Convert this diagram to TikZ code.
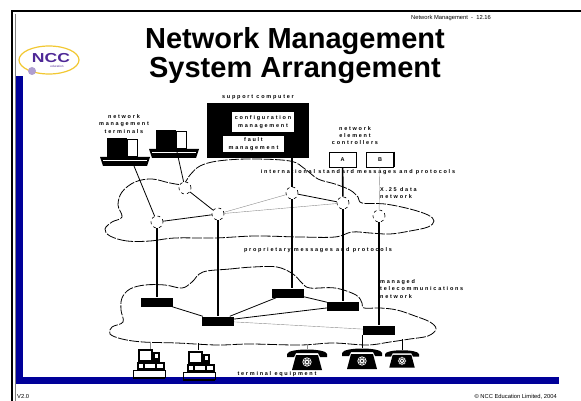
\documentclass[tikz,border=0pt]{standalone}
\usepackage{fontspec}
\setmainfont{Liberation Sans}
\newfontfamily\lblfont[LetterSpace=32]{Liberation Sans}
\usetikzlibrary{positioning,calc}

\definecolor{nccblue}{RGB}{0,0,153}
\definecolor{nccpurple}{RGB}{78,40,150}
\definecolor{nccgold}{RGB}{242,200,50}

\tikzset{
  lbl/.style={font=\lblfont\bfseries\fontsize{5.5}{7.2}\selectfont, inner sep=0pt, align=center},
  hub/.style={circle, draw, dashed, fill=white, minimum size=12pt, inner sep=0pt, line width=0.6pt},
  switch/.style={rectangle, fill=black, minimum width=32pt, minimum height=9pt, inner sep=0pt},
  panel/.style={rectangle, fill=white, inner sep=0pt, lbl},
  ctl/.style={rectangle, draw, line width=0.9pt, fill=white, minimum width=27pt, minimum height=15pt, inner sep=0pt, lbl},
  link/.style={line width=0.8pt},
  trunk/.style={line width=1.6pt},
  faint/.style={line width=0.4pt, black!45},
  cloudline/.style={dash pattern=on 10pt off 1.5pt, line width=0.8pt},
  ttl/.style={font=\bfseries\fontsize{29}{31}\selectfont, anchor=base, inner sep=0pt},
  small/.style={font=\fontsize{5.8}{7}\selectfont, inner sep=0pt},
  % desk terminal: monitor on a keyboard slab
  termpc/.pic={
    \fill (7,0) rectangle (27,19);
    \filldraw[fill=white, line width=0.4pt] (27,1) rectangle (37,18);
    \fill (0,19) -- (50,19) -- (47,28) -- (3,28) -- cycle;
    \draw[white, line width=0.5pt] (3,22) -- (47,22);
  },
  % personal computer on a base plate
  deskpc/.pic={
    \fill (5,1) rectangle (20,14);
    \fill[white] (7,3) rectangle (18,12);
    \fill (20,4) rectangle (27,14);
    \fill[white] (22,6) rectangle (25,10);
    \fill (4,14) rectangle (32,22);
    \foreach \a/\b in {6/10,12/22,24/30}
      \fill[white] (\a,16) rectangle (\b,20);
    \draw[line width=0.5pt] (0,22) rectangle (32,29);
    \draw[line width=1.2pt] (0,30) -- (32,30);
  },
  % telephone
  phone/.pic={
    \fill (-20,6) .. controls (-19,0) and (19,0) .. (20,6) -- (20,9) -- (13,9) -- (11,5) -- (-11,5) -- (-13,9) -- (-20,9) -- cycle;
    \fill (-11,7) -- (11,7) -- (15,22) -- (-15,22) -- cycle;
    \filldraw[fill=white, draw=black, line width=0.5pt] (0,14) circle (5);
    \foreach \a in {0,45,...,315}
      \fill (0,14) ++(\a:3) circle (0.8);
    \fill (0,14) circle (1.2);
  },
}

\begin{document}
\begin{tikzpicture}[x=1pt, y=-1pt]
\useasboundingbox (0,0) rectangle (581,401);

% slide frame and bars
\draw[line width=1.5pt] (12,401) -- (12,11) -- (581,11);
\draw[black!50, line width=0.4pt] (14.8,401) -- (14.8,14);
\fill[nccblue] (16,74) rectangle (23,384);
\fill[nccblue] (16,377) rectangle (559,384);

% logo
\fill[white] (16,44) rectangle (82,76);
\draw[nccgold, line width=1.2pt] (49,60) ellipse (30 and 14);
\node[text=nccpurple, font=\bfseries\fontsize{13}{13}\selectfont, xscale=1.35, inner sep=0pt] (logo) at (51,58) {NCC};
\node[text=nccpurple, font=\fontsize{3}{3}\selectfont, inner sep=0pt] (edu) at (57,66.5) {education};
\fill[nccpurple!45] (32,71) circle (4);

% headings
\node[small, anchor=base east] (hdr) at (491,20) {Network Management\ \ -\ \ 12.16};
\node[ttl] (title1) at (295,49) {Network Management};
\node[ttl] (title2) at (295,78) {System Arrangement};
\node[small, anchor=base west] (ver) at (17,398) {V2.0};
\node[small, anchor=base east] (copy) at (557,398) {\textcopyright\ NCC Education Limited, 2004};

% the two networks
\draw[cloudline] plot[smooth cycle, tension=0.6] coordinates {
  (150,241) (127,241) (110,236) (105,229) (112,222) (122,217) (118,205) (122,192)
  (135,182) (152,179) (170,183) (183,184) (190,175) (200,166) (218,161) (250,159)
  (290,161) (305,169) (318,179) (335,184) (350,190) (358,197) (362,203) (385,204)
  (410,209) (428,215) (434,221) (428,227) (410,231) (390,234) (370,233) (352,232)
  (335,237) (300,237) (255,236) (215,238) (175,238)};
\draw[cloudline] plot[smooth cycle, tension=0.6] coordinates {
  (203,272) (230,269) (253,267) (277,267) (293,274) (302,283) (310,288) (335,288)
  (356,295) (362,303) (364,308) (380,308) (397,310) (415,316) (430,322) (436,329)
  (428,336) (410,339) (390,342) (367,345) (333,343) (300,345) (250,344) (217,345)
  (177,343) (143,342) (122,339) (110,334) (112,327) (123,322) (121,310) (122,298)
  (130,289) (145,285) (165,285) (182,288) (192,282)};

% labels
\node[lbl] (termlbl) at (124,124) {network\\management\\terminals};
\node[lbl] (ctllbl) at (355,135.5) {network\\element\\controllers};
\node[lbl] (intl) at (358,172) {international standard messages and protocols};
\node[lbl, align=left, anchor=west] (x25) at (380,193) {X.25 data\\network};
\node[lbl] (prop) at (318,250) {proprietary messages and protocols};
\node[lbl, align=left, anchor=west] (mtn) at (380,289) {managed\\telecommunications\\network};
\node[lbl] (teq) at (277,374) {terminal equipment};

% support computer
\node[fill=black, minimum width=102pt, minimum height=55pt, inner sep=0pt] (supp) at (258,130.5) {};
\node[lbl, above=3pt of supp] (supplbl) {support computer};
\node[panel, minimum width=62pt, minimum height=20pt] (cfg) at (263,122) {configuration\\management};
\node[panel, minimum width=61pt, minimum height=16pt] (fault) at (253.5,144) {fault\\management};

% element controllers
\node[ctl] (ctlA) at (342.5,159.5) {A};
\node[ctl] (ctlB) at (380,159.5) {B};
\draw[line width=1.6pt] (ctlB.north east) -- (ctlB.south east);

% terminals
\pic at (100,138) {termpc};
\pic at (149,130) {termpc};
\coordinate (t1) at (134,166);
\coordinate (t2) at (177,152);

% switching nodes
\node[hub] (h1) at (185,188) {};
\node[hub] (h2) at (292,193) {};
\node[hub] (h3) at (218,214) {};
\node[hub] (h4) at (157,222) {};
\node[hub] (h5) at (343,203) {};
\node[hub] (h6) at (379,216) {};
\node[switch] (s1) at (157,302) {};
\node[switch] (s2) at (218,321) {};
\node[switch] (s3) at (288,293) {};
\node[switch] (s4) at (343,306) {};
\node[switch] (s5) at (379,330) {};

% upper links
\draw[link] (t1) -- (h4);
\draw[link] (t2) -- (h1);
\draw[link] (h1) -- (h3);
\draw[link] (h4) -- (h3);
\draw[faint] (h3) -- (h2);
\draw[faint] (h3) -- (h5);
\draw[link] (h2) -- (h5);
\draw[faint] (ctlB) -- (h6);

% drops to the managed network
\draw[trunk] (supp.south -| h2) -- (h2);
\draw[trunk] (h2) -- (h2 |- s3.north);
\draw[trunk] (ctlA) -- (h5);
\draw[trunk] (h5) -- (s4);
\draw[trunk] (h6) -- (s5);
\draw[trunk] (h4) -- (s1);
\draw[trunk] (h3) -- (s2);

% lower links
\draw[link] (s1) -- (s2);
\draw[link] (s2) -- (s3);
\draw[link] (s2) -- (s4);
\draw[link] (s3) -- (s4);
\draw[faint] (s2) -- (s5);

% terminal equipment
\pic at (133,348) {deskpc};
\pic at (183,350) {deskpc};
\pic at (307,348) {phone};
\pic at (362,347) {phone};
\pic[scale=0.85] at (402,349) {phone};
\coordinate (pc1) at (150,349);
\coordinate (pc2) at (198,350);
\coordinate (ph1) at (307,349);
\coordinate (ph2) at (362,348);
\coordinate (ph3) at (402,350);
\coordinate (e1) at (150,342);
\coordinate (e2) at (198,343);
\coordinate (e3) at (307,344);
\coordinate (e5) at (402,339);
\draw[faint] (e1) -- (pc1);
\draw[link] (e2) -- (pc2);
\draw[faint] (e3) -- (ph1);
\draw[line width=1pt] (s5.south -| ph2) -- (ph2);
\draw[line width=1pt] (e5) -- (ph3);
\end{tikzpicture}
\end{document}
